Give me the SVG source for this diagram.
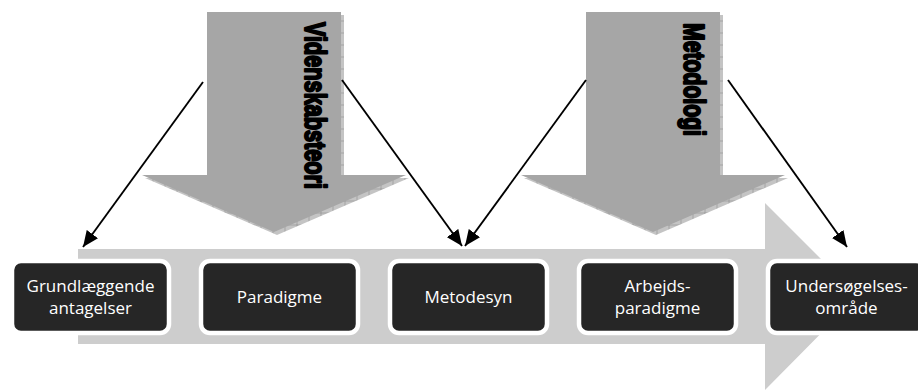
<svg xmlns="http://www.w3.org/2000/svg" width="918" height="390" viewBox="0 0 918 390">
  <defs>
    <style>
      .flow { fill: #cdcdcd; }
      .down { fill: #a6a6a6; }
      .down-shadow { fill: url(#bevel); }
      .box { fill: #262626; stroke: #ffffff; stroke-width: 4.5; }
      .label { font-family: "Open Sans", "Liberation Sans", sans-serif; font-size: 17px; fill: #ffffff; text-anchor: middle; }
      .vert { font-family: "Liberation Sans", Arial, sans-serif; font-weight: 900; font-size: 30px; fill: #000000; stroke: #000000; stroke-width: 2.2; stroke-linejoin: round; }
      .link { stroke: #000000; stroke-width: 1.9; fill: none; marker-end: url(#head); }
    </style>
    <pattern id="bevel" width="12" height="12" patternUnits="userSpaceOnUse">
      <rect width="12" height="12" fill="#c4c4c4"/>
      <path d="M6 0 V12 M0 6 H12" stroke="#8c8c8c" stroke-width="0.6"/>
    </pattern>
    <marker id="head" viewBox="0 0 16 14" refX="16" refY="7" markerWidth="16" markerHeight="14" markerUnits="userSpaceOnUse" orient="auto">
      <path d="M0 0 L16 7 L0 14 Z" fill="#000000"/>
    </marker>
  </defs>

  <!-- horizontal process arrow -->
  <g id="flow-arrow">
    <polygon class="flow" points="78,249 765,249 765,203 858,296 765,390 765,344 78,344"/>
  </g>

  <!-- downward arrows with bevel shadow -->
  <g id="videnskabsteori">
    <polygon class="down-shadow" transform="translate(3,3)" points="207,12 341,12 341,175 406,175 274,232 142,175 207,175"/>
    <polygon class="down" points="207,12 341,12 341,175 406,175 274,232 142,175 207,175"/>
    <text class="vert" transform="translate(305,22) rotate(90)" textLength="167" lengthAdjust="spacingAndGlyphs">Videnskabsteori</text>
  </g>
  <g id="metodologi">
    <polygon class="down-shadow" transform="translate(3,3)" points="586,12 720,12 720,175 785,175 653,232 521,175 586,175"/>
    <polygon class="down" points="586,12 720,12 720,175 785,175 653,232 521,175 586,175"/>
    <text class="vert" transform="translate(684,23) rotate(90)" textLength="113" lengthAdjust="spacingAndGlyphs">Metodologi</text>
  </g>

  <!-- connectors -->
  <g id="connectors">
    <line class="link" x1="203" y1="82" x2="83" y2="247"/>
    <line class="link" x1="342" y1="80" x2="462" y2="246"/>
    <line class="link" x1="586" y1="80" x2="465" y2="246"/>
    <line class="link" x1="728" y1="80" x2="847" y2="247"/>
  </g>

  <!-- process steps -->
  <g id="grundlaeggende">
    <rect class="box" x="12" y="261" width="157" height="72" rx="9"/>
    <text class="label" x="90.5" y="292">Grundlæggende</text>
    <text class="label" x="90.5" y="314">antagelser</text>
  </g>
  <g id="paradigme">
    <rect class="box" x="201" y="261" width="157" height="72" rx="9"/>
    <text class="label" x="279.5" y="303">Paradigme</text>
  </g>
  <g id="metodesyn">
    <rect class="box" x="390" y="261" width="157" height="72" rx="9"/>
    <text class="label" x="468.5" y="303">Metodesyn</text>
  </g>
  <g id="arbejdsparadigme">
    <rect class="box" x="579" y="261" width="157" height="72" rx="9"/>
    <text class="label" x="657.5" y="292">Arbejds-</text>
    <text class="label" x="657.5" y="314">paradigme</text>
  </g>
  <g id="undersoegelsesomraade">
    <rect class="box" x="768" y="261" width="157" height="72" rx="9"/>
    <text class="label" x="846.5" y="292">Undersøgelses-</text>
    <text class="label" x="846.5" y="314">område</text>
  </g>
</svg>
